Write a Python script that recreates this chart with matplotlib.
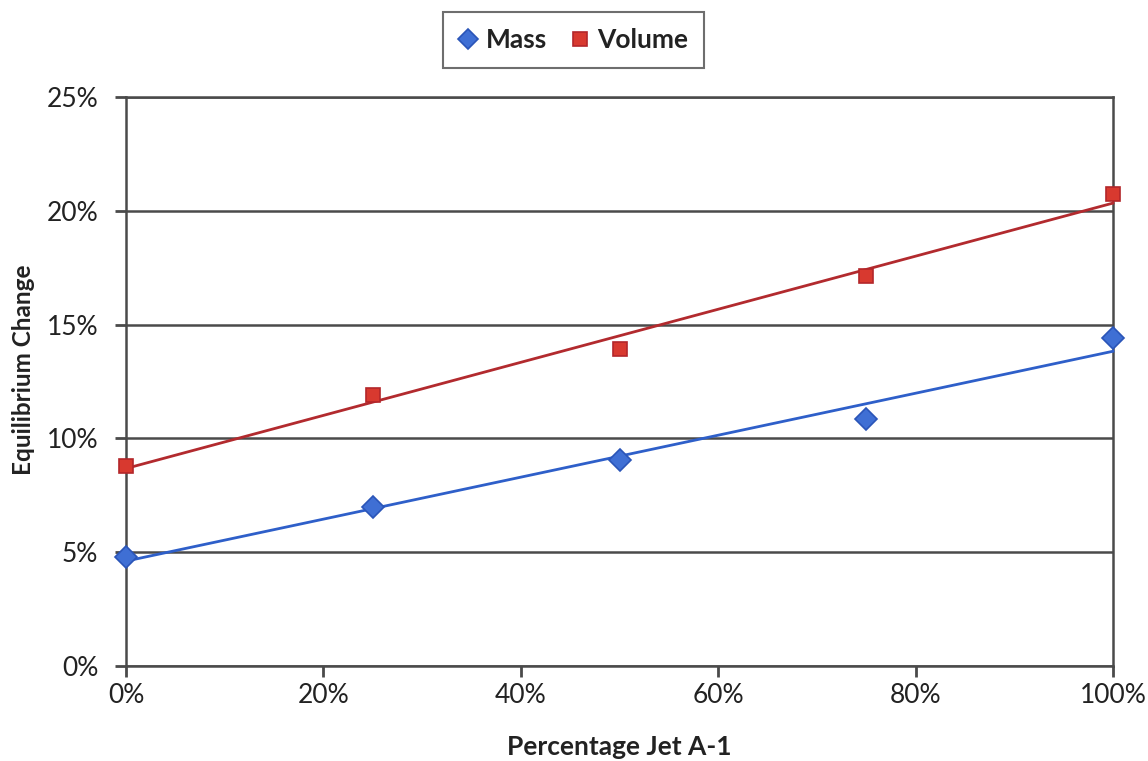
import matplotlib

matplotlib.use("Agg")
import matplotlib.pyplot as plt
import numpy as np
from matplotlib.ticker import PercentFormatter

# Equilibrium change (%) vs fraction of Jet A-1 in the blend (%)
jet_pct = [0, 25, 50, 75, 100]
mass = [4.8, 7.0, 9.05, 10.85, 14.4]
volume = [8.8, 11.9, 13.95, 17.15, 20.75]

C = {"mass_face": "#3F6FD4", "mass_edge": "#2A55B8", "mass_line": "#2E5FC9",
     "vol_face": "#D8392F", "vol_edge": "#B3262A", "vol_line": "#B22A2E",
     "grid": "#4A4A4A", "text": "#222222"}

plt.rcParams.update({
    "font.family": ["Lato", "DejaVu Sans"],
    "text.color": C["text"],
    "axes.labelcolor": C["text"],
    "xtick.color": C["grid"],
    "ytick.color": C["grid"],
    "xtick.labelcolor": C["text"],
    "ytick.labelcolor": C["text"],
})

fig = plt.figure(figsize=(11.48, 7.61), dpi=100)
ax = fig.add_axes([0.1098, 0.1248, 0.8597, 0.7477])

x = np.array(jet_pct, dtype=float)
xx = np.array([0.0, 100.0])
# least-squares trend line for each series
for ys, line_c in [(mass, C["mass_line"]), (volume, C["vol_line"])]:
    k, b = np.polyfit(x, ys, 1)
    ax.plot(xx, k * xx + b, color=line_c, lw=2, zorder=3, clip_on=False)

ax.plot(x, mass, ls="none", marker="D", ms=11.5, mfc=C["mass_face"], mec=C["mass_edge"],
        mew=1.2, label="Mass", zorder=4, clip_on=False)
ax.plot(x, volume, ls="none", marker="s", ms=10.5, mfc=C["vol_face"], mec=C["vol_edge"],
        mew=1.2, label="Volume", zorder=4, clip_on=False)

ax.set_xlim(0, 100)
ax.set_ylim(0, 25)
ax.set_xticks(range(0, 101, 20))
ax.set_yticks(range(0, 26, 5))
ax.xaxis.set_major_formatter(PercentFormatter(decimals=0))
ax.yaxis.set_major_formatter(PercentFormatter(decimals=0))
ax.tick_params(axis="both", direction="out", length=8, width=2, labelsize=19)
ax.tick_params(axis="x", pad=4)
ax.tick_params(axis="y", pad=12)

ax.grid(axis="y", color=C["grid"], lw=1.8)
ax.set_axisbelow(True)
for side in ("left", "right", "top", "bottom"):
    ax.spines[side].set_color(C["grid"])
    ax.spines[side].set_linewidth(1.8)

ax.set_xlabel("Percentage Jet A-1", fontsize=19, fontweight="bold", labelpad=20)
ax.set_ylabel("Equilibrium Change", fontsize=17.5, fontweight="bold")
ax.yaxis.set_label_coords(-0.092, 0.52)

leg = fig.legend(loc="center", bbox_to_anchor=(0.4996, 0.947), ncol=2, fontsize=19,
                 frameon=True, fancybox=False, edgecolor=C["grid"], handlelength=0.7,
                 handletextpad=0.3, columnspacing=0.9, borderpad=0.6, markerscale=0.9)
leg.get_frame().set_linewidth(1.5)
for t in leg.get_texts():
    t.set_fontweight("bold")

fig.savefig("out.png", dpi=100)
